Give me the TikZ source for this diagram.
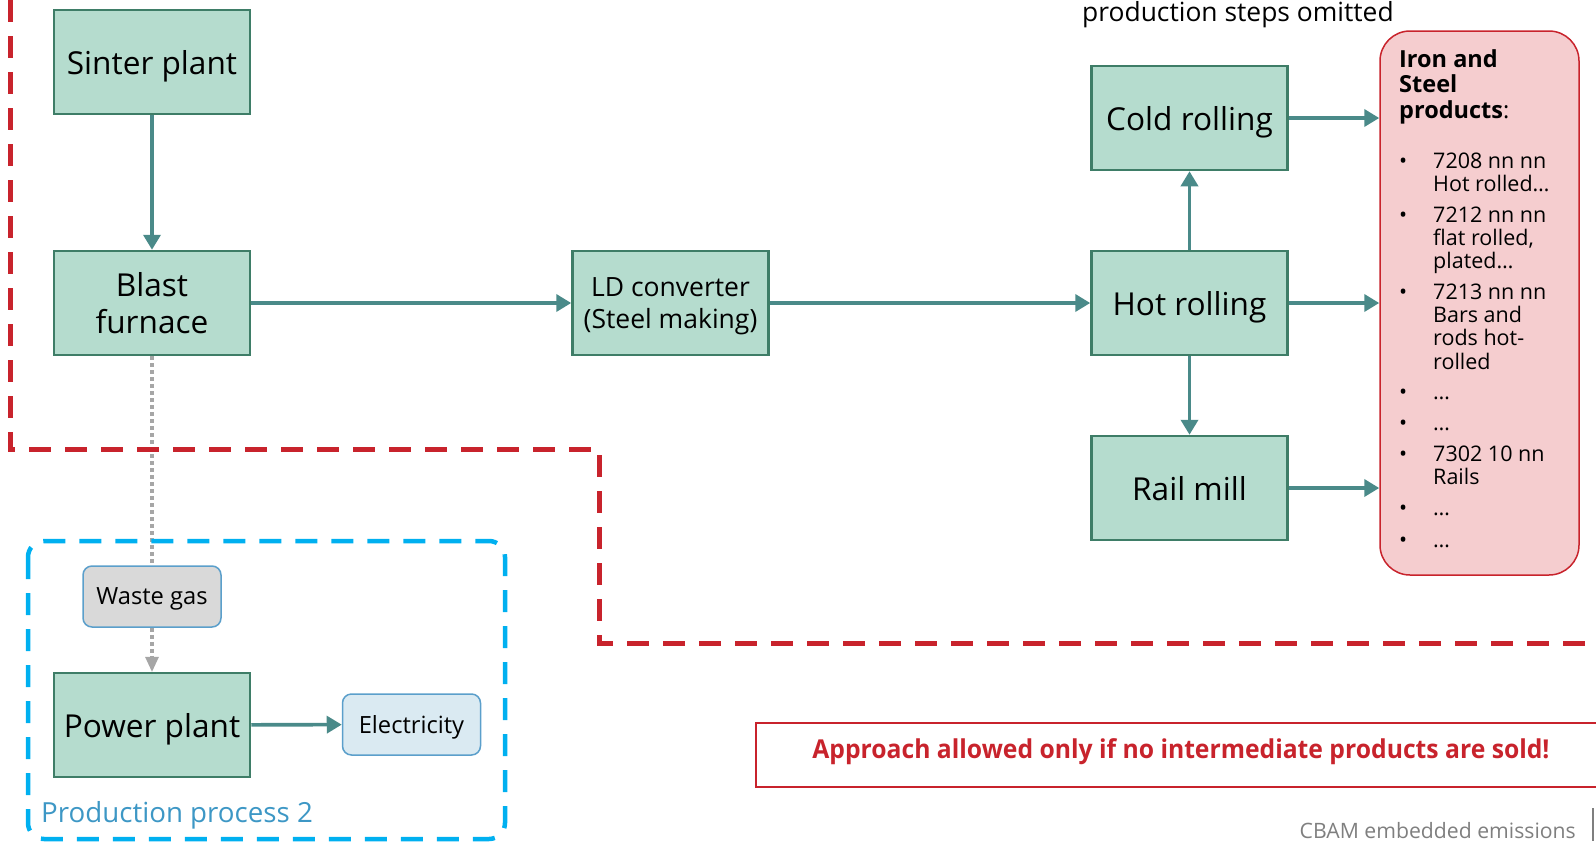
\documentclass[tikz,border=0pt]{standalone}
\usepackage{fontspec}
\setmainfont{Open Sans}
\usetikzlibrary{arrows.meta,calc}
\definecolor{boxfill}{HTML}{B5DCCE}
\definecolor{boxdraw}{HTML}{3E7D67}
\definecolor{arr}{HTML}{4A8A89}
\definecolor{cbred}{HTML}{C8232C}
\definecolor{cbblue}{HTML}{00B0F0}
\definecolor{pinkfill}{HTML}{F5CDCF}
\definecolor{wastefill}{HTML}{D9D9D9}
\definecolor{elecfill}{HTML}{DAEAF2}
\definecolor{smallborder}{HTML}{5B9FCB}
\definecolor{procblue}{HTML}{3D97C5}
\definecolor{dotgray}{HTML}{A6A6A6}
\definecolor{footgray}{HTML}{7F7F7F}
\begin{document}
\begin{tikzpicture}[x=1pt,y=-1pt,
  proc/.style={draw=boxdraw, fill=boxfill, line width=2.5pt, minimum width=196pt, minimum height=104pt, inner sep=0pt, text depth=0pt, align=center, font=\fontsize{31.6}{37.6}\selectfont},
  smallbox/.style={draw=smallborder, line width=1.5pt, rounded corners=9pt, minimum width=138pt, minimum height=61pt, inner sep=0pt, text depth=0pt, font=\fontsize{23.7}{28}\selectfont},
  flow/.style={draw=arr, line width=3.6pt, -{Triangle[length=15pt,width=17pt]}},
  gasflow/.style={draw=dotgray, line width=3.5pt, dash pattern=on 4pt off 3pt},
  itemtext/.style={anchor=base west, inner sep=0pt, font=\fontsize{21.5}{23.4}\selectfont},
  bul/.style={anchor=base west, inner sep=0pt, font=\fontsize{21.5}{23.4}\selectfont}
]
\useasboundingbox (0,0) rectangle (1596,841);

% nodes
\node[proc] (sinter) at (152,62) {Sinter plant};
\node[proc] (blast) at (152,303) {Blast\\furnace};
\node[proc, font=\fontsize{26.5}{32}\selectfont] (ld) at (670.5,303) {LD converter\\(Steel making)};
\node[proc] (hot) at (1189.5,303) {Hot rolling};
\node[proc] (cold) at (1189.5,118) {Cold rolling};
\node[proc] (rail) at (1189.5,488) {Rail mill};
\node[proc] (power) at (152,725) {Power plant};
\node[smallbox, fill=wastefill] (waste) at (152,596.5) {Waste gas};
\node[smallbox, fill=elecfill] (elec) at (411.5,724.5) {Electricity};
\node[draw=cbred, fill=pinkfill, line width=1.5pt, rounded corners=30pt, minimum width=199pt, minimum height=544pt, inner sep=0pt] (prod) at (1479.5,303) {};

% gas flow
\draw[gasflow] (blast.south) -- (waste.north);
\draw[gasflow] (waste.south) -- ($(power.north)+(0,-12)$);
\fill[dotgray] ($(power.north)+(-7,-15)$) -- ($(power.north)+(7,-15)$) -- (power.north) -- cycle;

% red boundary
\draw[cbred, line width=5pt, dash pattern=on 22pt off 14pt] (10,0) -- (10,449) -- (599,449) -- (599,643) -- (1600,643);
% blue boundary
\draw[cbblue, line width=4.5pt, dash pattern=on 22pt off 14pt, rounded corners=16pt] (28,541) rectangle (505,839);

% flows
\draw[flow] (sinter) -- (blast);
\draw[flow] (blast) -- (ld);
\draw[flow] (ld) -- (hot);
\draw[flow] (hot) -- (cold);
\draw[flow] (hot) -- (rail);
\draw[flow] (cold.east) -- (cold.east -| prod.west);
\draw[flow] (hot.east) -- (hot.east -| prod.west);
\draw[flow] (rail.east) -- (rail.east -| prod.west);
\draw[flow] (power) -- (elec);

% product list
\node[anchor=base west, inner sep=0pt] (ptitle) at (1399,67) {\parbox[t]{160pt}{\fontsize{23.5}{25.5}\selectfont\bfseries Iron and\\Steel\\products\mdseries:}};
\node[bul] (b1) at (1399,168) {•};
\node[itemtext] (i1) at (1433,168) {\parbox[t]{140pt}{7208 nn nn\\Hot rolled…}};
\node[bul] (b2) at (1399,222) {•};
\node[itemtext] (i2) at (1433,222) {\parbox[t]{140pt}{7212 nn nn\\flat rolled,\\plated…}};
\node[bul] (b3) at (1399,299) {•};
\node[itemtext] (i3) at (1433,299) {\parbox[t]{140pt}{7213 nn nn\\Bars and\\rods hot-\\rolled}};
\node[bul] (b4) at (1399,399) {•};
\node[itemtext] (i4) at (1433,399) {…};
\node[bul] (b5) at (1399,430) {•};
\node[itemtext] (i5) at (1433,430) {…};
\node[bul] (b6) at (1399,461) {•};
\node[itemtext] (i6) at (1433,461) {\parbox[t]{140pt}{7302 10 nn\\Rails}};
\node[bul] (b7) at (1399,515) {•};
\node[itemtext] (i7) at (1433,515) {…};
\node[bul] (b8) at (1399,547) {•};
\node[itemtext] (i8) at (1433,547) {…};

% texts
\node[anchor=base west, inner sep=0pt, font=\fontsize{26.4}{30}\selectfont] (omit) at (1082,21) {production steps omitted};
\node[anchor=base west, inner sep=0pt, text=procblue, font=\fontsize{27.7}{30}\selectfont] (pp2) at (41,822) {Production process 2};

% approach box
\draw[cbred, line width=2pt] (756,723) rectangle (1602,787);
\node[anchor=base, inner sep=0pt, text=cbred, font=\bfseries\fontsize{26}{30}\selectfont] (appr) at (1181,758) {\scalebox{0.95}[1]{Approach allowed only if no intermediate products are sold!}};

% footer
\node[anchor=base east, inner sep=0pt, text=footgray, font=\fontsize{21.2}{25}\selectfont] (foot) at (1576,838) {CBAM embedded emissions};
\draw[footgray, line width=1.5pt] (1593,808) -- (1593,841);
\end{tikzpicture}
\end{document}
